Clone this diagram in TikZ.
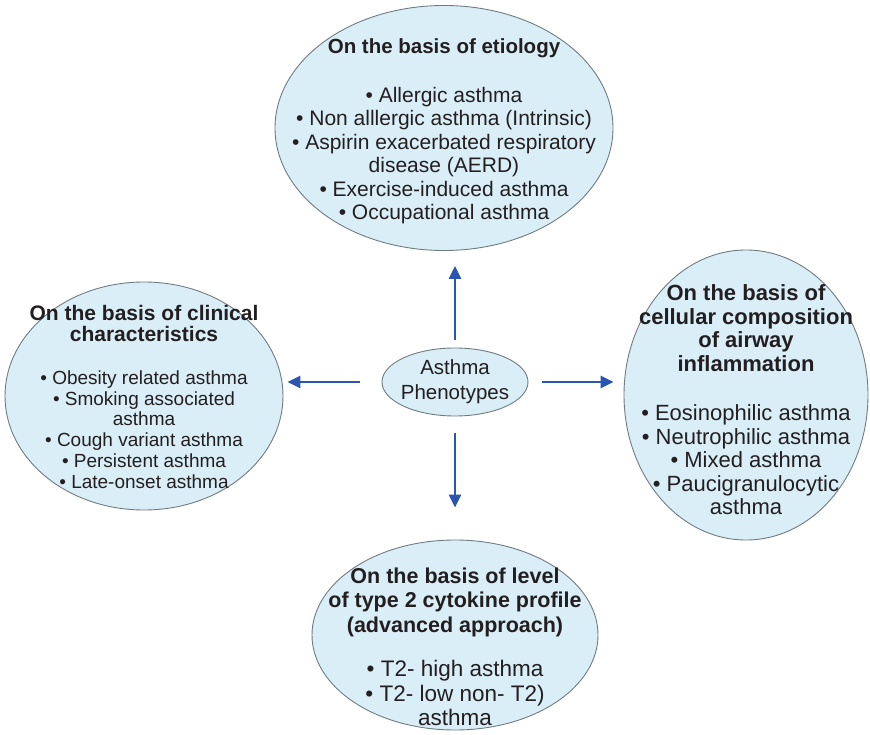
\documentclass[tikz,border=0pt]{standalone}
\usepackage{fontspec}
\setmainfont{Liberation Sans}
\usetikzlibrary{arrows.meta,shapes.geometric}
\definecolor{Ink}{HTML}{231F20}
\definecolor{OvalFill}{HTML}{DAEEF8}
\definecolor{OvalEdge}{HTML}{707C82}
\definecolor{ArrowBlue}{HTML}{2B55B2}

\begin{document}
\begin{tikzpicture}[x=1pt,y=-1pt,
  oval/.style={ellipse,draw=OvalEdge,line width=0.9pt,fill=OvalFill,inner sep=0pt},
  ovaltext/.style={align=center,text=Ink,inner sep=0pt},
  link/.style={draw=ArrowBlue,line width=2.4pt,-{Triangle[length=13pt,width=12pt]}}
]
\useasboundingbox (0,0) rectangle (870,735);
% the five ovals
\node[oval,minimum width=338pt,minimum height=245pt] (etio) at (444,128) {};
\node[oval,minimum width=278pt,minimum height=228pt] (clin) at (144,396) {};
\node[oval,minimum width=244pt,minimum height=290pt] (cell) at (746,395) {};
\node[oval,minimum width=286pt,minimum height=190pt] (cyto) at (455,635) {};
\node[oval,minimum width=146pt,minimum height=68pt] (hub) at (455,382) {};
% texts
\node[ovaltext,font=\fontsize{20.5}{25}\selectfont] (hubtext) at (hub.center) {Asthma\\Phenotypes};
\node[ovaltext,font=\fontsize{21}{23.4}\selectfont] (etiotext) at (444,131) {
  {\fontsize{20.5}{23.4}\selectfont\bfseries On the basis of etiology}\\[26pt]
  • Allergic asthma\\
  • Non alllergic asthma (Intrinsic)\\
  • Aspirin exacerbated respiratory\\
  disease (AERD)\\
  • Exercise-induced asthma\\
  • Occupational asthma};
\node[ovaltext,font=\fontsize{19}{20.8}\selectfont] (clintext) at (144,397) {
  {\fontsize{21}{22}\selectfont\bfseries On the basis of clinical}\\
  {\fontsize{21}{22}\selectfont\bfseries characteristics}\\[22pt]
  • Obesity related asthma\\
  • Smoking associated\\
  asthma\\
  • Cough variant asthma\\
  • Persistent asthma\\
  • Late-onset asthma};
\node[ovaltext,font=\fontsize{22}{23.5}\selectfont] (celltext) at (746,400) {
  {\fontsize{22}{23}\selectfont\bfseries On the basis of}\\
  {\fontsize{22}{23}\selectfont\bfseries cellular composition}\\
  {\fontsize{22}{23}\selectfont\bfseries of airway}\\
  {\fontsize{22}{23}\selectfont\bfseries inflammation}\\[26pt]
  • Eosinophilic asthma\\
  • Neutrophilic asthma\\
  • Mixed asthma\\
  • Paucigranulocytic\\
  asthma};
\node[ovaltext,font=\fontsize{22.5}{24.5}\selectfont] (cytotext) at (455,647) {
  {\fontsize{21.5}{24.5}\selectfont\bfseries On the basis of level}\\
  {\fontsize{21.5}{24.5}\selectfont\bfseries of type 2 cytokine profile}\\
  {\fontsize{21.5}{24.5}\selectfont\bfseries (advanced approach)}\\[20pt]
  • T2- high asthma\\
  • T2- low non- T2)\\
  asthma};
% arrows out of the hub
\draw[link,shorten <=8pt,shorten >=15pt] (hub.north) -- (hub.north |- etio.south);
\draw[link,shorten <=22pt,shorten >=4pt] (hub.west) -- (clin.east |- hub.west);
\draw[link,shorten <=14pt,shorten >=10pt] (hub.east) -- (cell.west |- hub.east);
\draw[link,shorten <=17pt,shorten >=32pt] (hub.south) -- (hub.south |- cyto.north);
\end{tikzpicture}
\end{document}
